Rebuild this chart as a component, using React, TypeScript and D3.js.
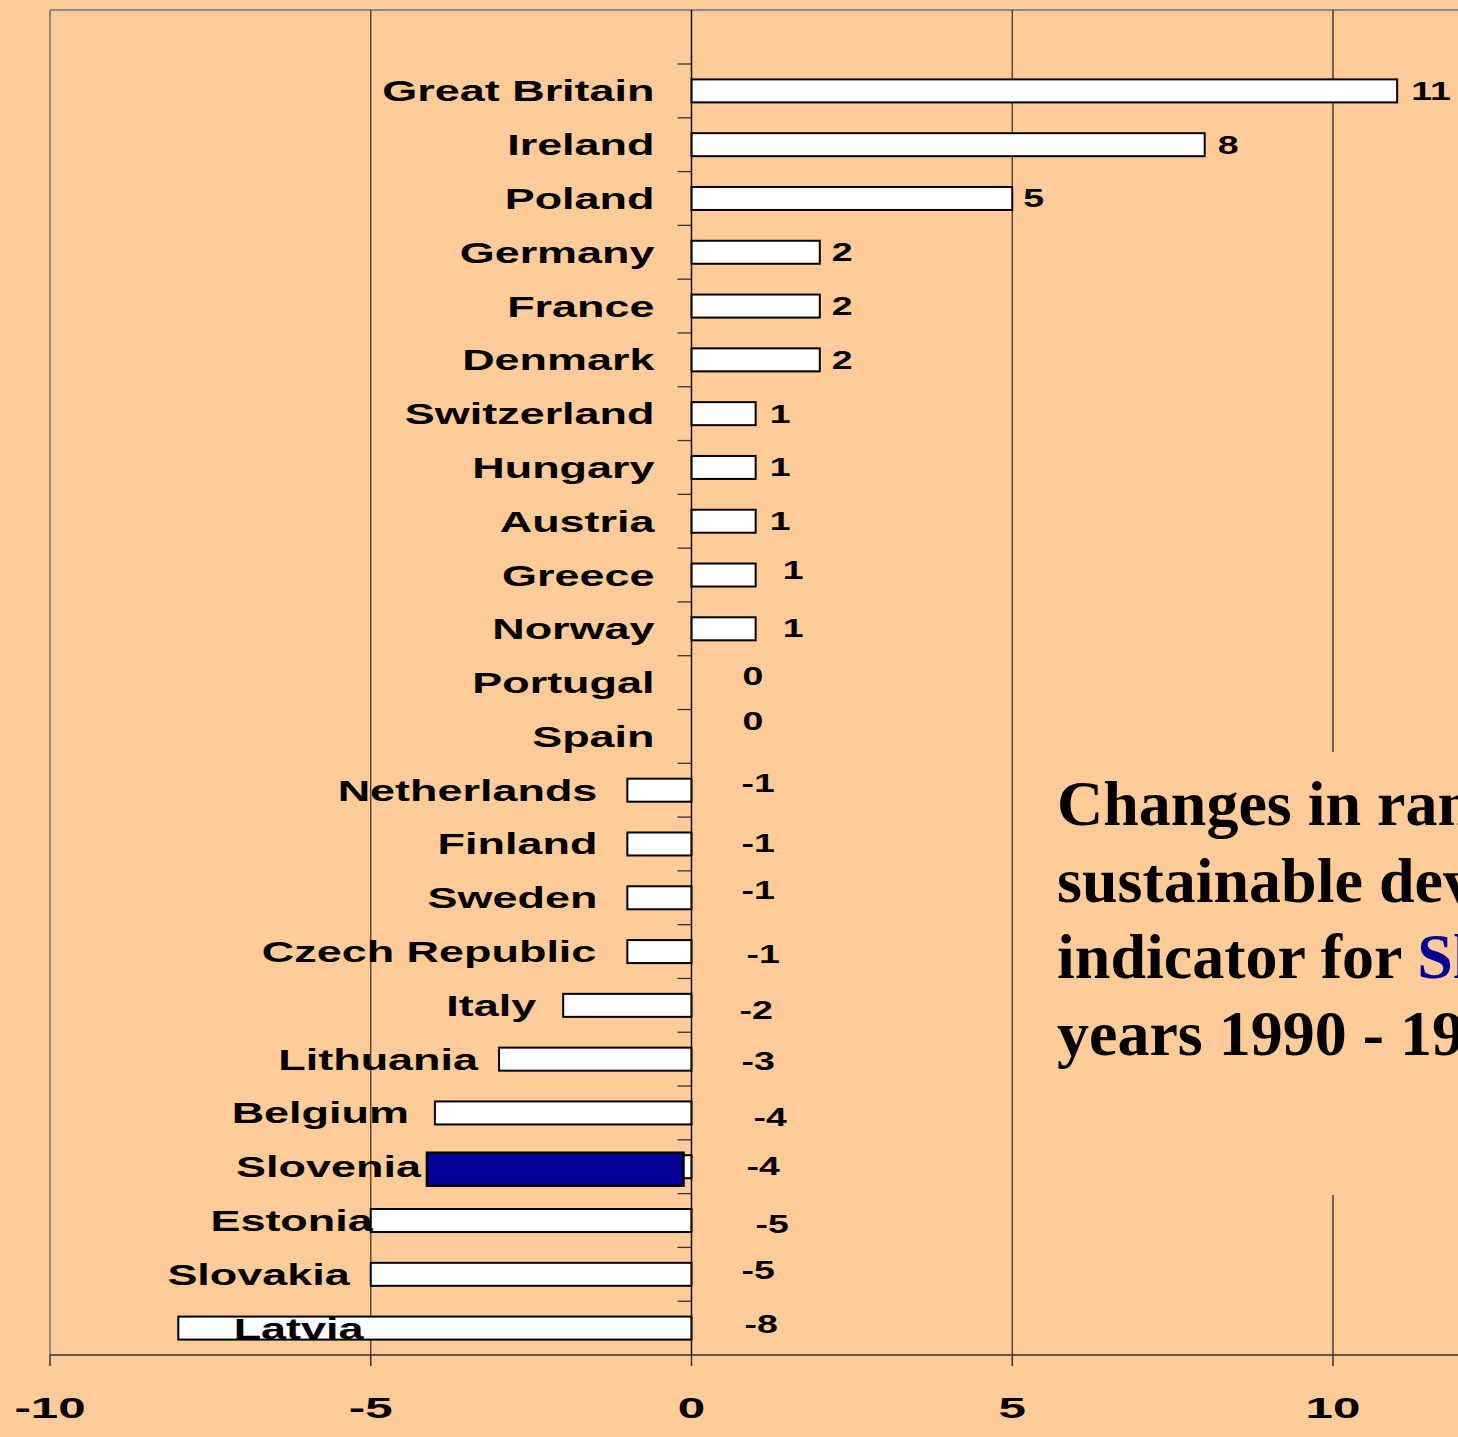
import React from "react";
import * as d3 from "d3";

const countries = [
  "Great Britain", "Ireland", "Poland", "Germany", "France", "Denmark",
  "Switzerland", "Hungary", "Austria", "Greece", "Norway", "Portugal",
  "Spain", "Netherlands", "Finland", "Sweden", "Czech Republic", "Italy",
  "Lithuania", "Belgium", "Slovenia", "Estonia", "Slovakia", "Latvia",
];
const rankChange = [11, 8, 5, 2, 2, 2, 1, 1, 1, 1, 1, 0, 0, -1, -1, -1, -1, -2, -3, -4, -4, -5, -5, -8];
const xTicks = [-10, -5, 0, 5, 10];
const gridValues = [-5, 5, 10];
const highlighted = "Slovenia";
const titleLines = [
  ["Changes in rank of the"],
  ["sustainable development"],
  ["indicator for ", "Slovenia", " in"],
  ["years 1990 - 1999"],
];

// layout nudges (pixels) for labels, as placed in the original
const nameGap = [37, 37, 37, 37, 37, 37, 37, 37, 37, 37, 37, 37, 37, 30, 30, 30, 31, 27, 21, 26, 14, -2, 21, 0];
const valDx = [14, 13, 11, 12, 12, 12, 14, 14, 14, 27, 27, 51, 51, 50, 50, 50, 55, 48, 50, 62, 55, 64, 50, 53];
const valDy = [0, 0, 0, 0, 0, 0, 0, 0, 0, -5, -1, -7, -15, -7, -1, -8, 2, 5, 2, 4, -1, 3, -4, -4];

const W = 1458;
const H = 1437;
const BG = "#FFCC99";
const SANS = "'Liberation Sans', Arial, sans-serif";
const SERIF = "'Liberation Serif', 'Times New Roman', serif";

export default function App() {
  const x = d3.scaleLinear().domain([-10, 15]).range([50, 50 + 25 * 64.15]);
  const y = d3.scaleBand<string>().domain(countries).range([64, 1355]).padding(0);
  const plotTop = 10;
  const plotBottom = 1355;
  const bw = y.bandwidth();
  const barH = 23;
  const x0 = x(0);

  return (
    <svg
      width={W}
      height={H}
      style={{ position: "absolute", left: 0, top: 0, display: "block" }}
      fontFamily={SANS}
    >
      <rect x={0} y={0} width={W} height={H} fill={BG} />
      {/* frame */}
      <line x1={50} x2={W} y1={plotTop} y2={plotTop} stroke="#8a8a8a" strokeWidth={2} />
      <line x1={50} x2={50} y1={plotTop} y2={plotBottom} stroke="#8a8a8a" strokeWidth={2} />
      {/* gridlines */}
      {gridValues.map((v) => (
        <line
          key={v}
          x1={x(v)}
          x2={x(v)}
          y1={plotTop}
          y2={plotBottom}
          stroke={v === 10 ? "#7a6048" : "#3c2814"}
          strokeWidth={v === 10 ? 2 : 1.2}
        />
      ))}
      {/* title box covering gridline */}
      <rect x={1030} y={752} width={W - 1030} height={443} fill={BG} />
      <g fontFamily={SERIF} fontWeight="bold" fontSize={64} fill="#000">
        {titleLines.map((parts, i) => (
          <text key={i} x={1057} y={825 + i * 76.7}>
            {parts.map((p, j) => (
              <tspan key={j} fill={p === highlighted ? "#000099" : "#000"}>
                {p}
              </tspan>
            ))}
          </text>
        ))}
      </g>
      {/* bottom axis */}
      <line x1={50} x2={W} y1={plotBottom} y2={plotBottom} stroke="#333" strokeWidth={1.5} />
      {xTicks.map((t) => (
        <g key={t}>
          <line x1={x(t)} x2={x(t)} y1={plotBottom} y2={plotBottom + 11} stroke="#333" strokeWidth={1.5} />
          <text
            transform={`translate(${x(t)},${1418}) scale(1.7,1)`}
            textAnchor="middle"
            fontSize={29}
            fontWeight="bold"
          >
            {t}
          </text>
        </g>
      ))}
      {/* category ticks */}
      {countries.map((c) => (
        <line key={c} x1={x0 - 14} x2={x0} y1={y(c)!} y2={y(c)!} stroke="#333" strokeWidth={1.3} />
      ))}
      {/* bars */}
      {countries.map((c, i) => {
        const v = rankChange[i];
        if (v === 0) return null;
        const cy = y(c)! + bw / 2;
        return (
          <rect
            key={c}
            x={Math.min(x(v), x0)}
            y={cy - barH / 2}
            width={Math.abs(x(v) - x0)}
            height={barH}
            fill="#fff"
            stroke="#000"
            strokeWidth={2}
          />
        );
      })}
      {/* highlight overlay */}
      {countries.map((c, i) => {
        if (c !== highlighted) return null;
        const v = rankChange[i];
        const cy = y(c)! + bw / 2;
        return (
          <rect
            key={c}
            x={x(v) - 8}
            y={cy - 14}
            width={x0 - x(v)}
            height={33}
            fill="#000099"
            stroke="#000"
            strokeWidth={2.5}
          />
        );
      })}
      {/* zero axis */}
      <line x1={x0} x2={x0} y1={plotTop} y2={plotBottom} stroke="#111" strokeWidth={1.5} />
      {/* category labels */}
      {countries.map((c, i) => {
        const v = rankChange[i];
        const cy = y(c)! + bw / 2;
        if (c === "Latvia") {
          return (
            <text
              key={c}
              transform={`translate(${(x(v) + x(-4)) / 2 - 8},${cy + 11}) scale(1.55,1)`}
              textAnchor="middle"
              fontSize={29}
              fontWeight="bold"
            >
              {c}
            </text>
          );
        }
        const end = Math.min(x(v), x0) - nameGap[i];
        return (
          <text
            key={c}
            transform={`translate(${end},${cy + 10.5}) scale(1.55,1)`}
            textAnchor="end"
            fontSize={29}
            fontWeight="bold"
          >
            {c}
          </text>
        );
      })}
      {/* value labels */}
      {countries.map((c, i) => {
        const v = rankChange[i];
        const cy = y(c)! + bw / 2;
        const start = Math.max(x(v), x0) + valDx[i];
        return (
          <text
            key={c}
            transform={`translate(${start},${cy + valDy[i] + 9}) scale(1.5,1)`}
            textAnchor="start"
            fontSize={25}
            fontWeight="bold"
          >
            {v}
          </text>
        );
      })}
    </svg>
  );
}
